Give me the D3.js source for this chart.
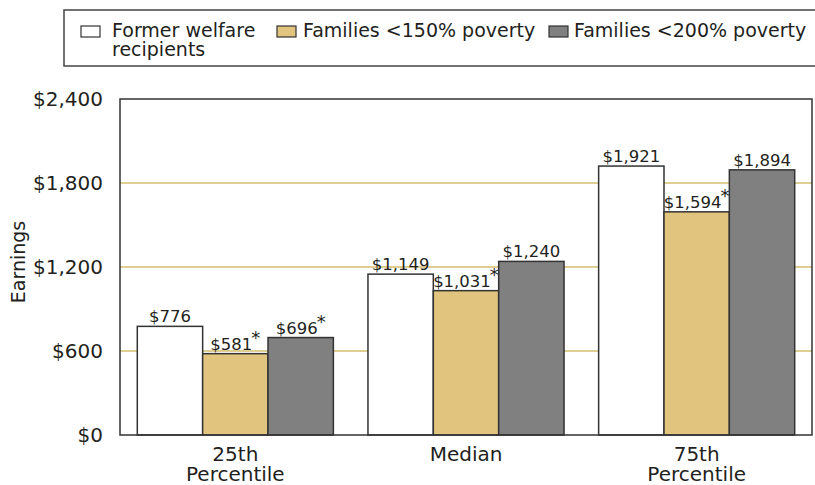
<!DOCTYPE html>
<html>
<head>
<meta charset="utf-8">
<script src="https://cdn.jsdelivr.net/npm/d3@7"></script>
<style>
  body { margin: 0; background: #fff; }
  svg { display: block; font-family: "DejaVu Sans", sans-serif; fill: #231f20; }
</style>
</head>
<body>
<svg width="815" height="485"></svg>
<script>
var categories = [["25th", "Percentile"], ["Median"], ["75th", "Percentile"]];
var seriesNames = ["Former welfare recipients", "Families <150% poverty", "Families <200% poverty"];
var formerWelfare = [776, 1149, 1921];
var below150 = [581, 1031, 1594];
var below200 = [696, 1240, 1894];
// significance marks (asterisk) per series, per category
var sigFormer = [false, false, false];
var sig150 = [true, true, true];
var sig200 = [true, false, false];
var yTicks = [0, 600, 1200, 1800, 2400];

var colors = ["#ffffff", "#e1c47e", "#808080"];
var values = [formerWelfare, below150, below200];
var sigs = [sigFormer, sig150, sig200];

var svg = d3.select("svg"),
    plotLeft = 120, plotRight = 812, plotTop = 99, plotBottom = 435;

var x0 = d3.scaleBand()
    .domain(d3.range(categories.length))
    .range([plotLeft, plotRight])
    .paddingInner(0.15)
    .paddingOuter(0.075);
var x1 = d3.scaleBand()
    .domain(d3.range(seriesNames.length))
    .range([0, x0.bandwidth()]);
var y = d3.scaleLinear().domain([0, 2400]).range([plotBottom, plotTop]);

// gridlines
svg.append("g").selectAll("line")
    .data(yTicks.filter(function (d) { return d > 0 && d < 2400; }))
    .enter().append("line")
    .attr("x1", plotLeft).attr("x2", plotRight)
    .attr("y1", function (d) { return y(d); })
    .attr("y2", function (d) { return y(d); })
    .attr("stroke", "#d6bd6c").attr("stroke-width", 1.5);

// y axis labels
var yAxis = d3.axisLeft(y).tickValues(yTicks).tickSize(0).tickPadding(17)
    .tickFormat(function (d) { return "$" + d3.format(",")(d); });
svg.append("g").attr("transform", "translate(" + plotLeft + ",0)").call(yAxis)
    .call(function (g) { g.select(".domain").remove(); })
    .selectAll("text")
    .attr("font-family", "DejaVu Sans").attr("font-size", 20).attr("fill", "#231f20");

svg.append("text")
    .attr("transform", "translate(25," + ((plotTop + plotBottom) / 2 - 5) + ") rotate(-90)")
    .attr("text-anchor", "middle")
    .attr("font-size", 19)
    .text("Earnings");

// bars
var rows = [];
categories.forEach(function (c, i) {
    values.forEach(function (s, j) {
        rows.push({cat: i, ser: j, value: s[i], sig: sigs[j][i]});
    });
});

svg.append("g").selectAll("rect")
    .data(rows)
    .enter().append("rect")
    .attr("x", function (d) { return x0(d.cat) + x1(d.ser); })
    .attr("y", function (d) { return y(d.value); })
    .attr("width", x1.bandwidth())
    .attr("height", function (d) { return y(0) - y(d.value); })
    .attr("fill", function (d) { return colors[d.ser]; })
    .attr("stroke", "#333").attr("stroke-width", 1.5);

var labels = svg.append("g").selectAll("text")
    .data(rows)
    .enter().append("text")
    .attr("x", function (d) { return x0(d.cat) + x1(d.ser) + x1.bandwidth() / 2; })
    .attr("y", function (d) { return y(d.value) - 4; })
    .attr("text-anchor", "middle")
    .attr("font-size", 16.5);
labels.append("tspan").text(function (d) { return "$" + d3.format(",")(d.value); });
labels.filter(function (d) { return d.sig; })
    .append("tspan").attr("dy", -6).attr("dx", -1).attr("font-size", 18).text("*");

// frame
svg.append("rect")
    .attr("x", plotLeft).attr("y", plotTop)
    .attr("width", plotRight - plotLeft).attr("height", plotBottom - plotTop)
    .attr("fill", "none").attr("stroke", "#333").attr("stroke-width", 1.5);

// category labels
var cat = svg.append("g").selectAll("text")
    .data(categories)
    .enter().append("text")
    .attr("x", function (d, i) { return x0(i) + x0.bandwidth() / 2; })
    .attr("y", 461)
    .attr("text-anchor", "middle")
    .attr("font-size", 20);
cat.selectAll("tspan")
    .data(function (d) { return d; })
    .enter().append("tspan")
    .attr("x", function () { return this.parentNode.getAttribute("x"); })
    .attr("dy", function (d, i) { return i === 0 ? 0 : 20; })
    .text(function (d) { return d; });

// legend
svg.append("rect")
    .attr("x", 64).attr("y", 10).attr("width", 800).attr("height", 56)
    .attr("fill", "none").attr("stroke", "#444").attr("stroke-width", 1.5);
var legendX = [81, 277, 549], legendTextGap = [31, 26, 25];
var legendLines = [["Former welfare", "recipients"], [seriesNames[1]], [seriesNames[2]]];
var lg = svg.append("g").selectAll("g")
    .data(seriesNames)
    .enter().append("g")
    .attr("transform", function (d, i) { return "translate(" + legendX[i] + ",0)"; });
lg.append("rect")
    .attr("x", 0).attr("y", 26).attr("width", 19).attr("height", 11)
    .attr("fill", function (d, i) { return colors[i]; })
    .attr("stroke", "#333").attr("stroke-width", 1.2);
lg.append("text")
    .attr("y", 37)
    .attr("font-size", 19)
    .each(function (d, i) {
        var t = d3.select(this);
        legendLines[i].forEach(function (line, k) {
            t.append("tspan").attr("x", legendTextGap[i]).attr("dy", k === 0 ? 0 : 19).text(line);
        });
    });
</script>
</body>
</html>
